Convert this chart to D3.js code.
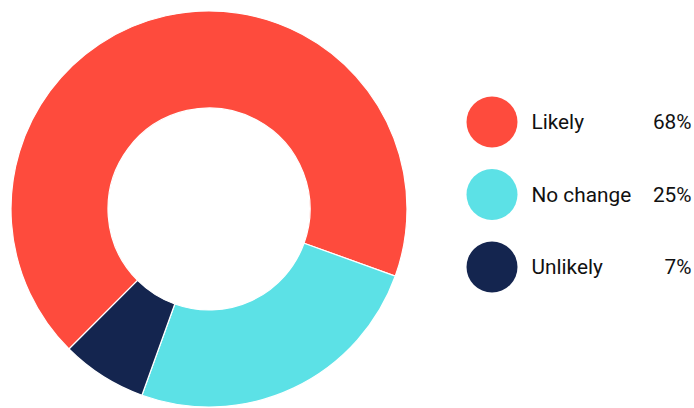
<!DOCTYPE html>
<html>
<head>
<meta charset="utf-8">
<script src="https://cdn.jsdelivr.net/npm/d3@7"></script>
<style>
  body { margin: 0; background: #fff; }
  text { font-family: Roboto, "Noto Sans", sans-serif; }
</style>
</head>
<body>
<svg width="694" height="408"></svg>
<script>
// data
var categories = ["Likely", "No change", "Unlikely"];
var values = [68, 25, 7];
var labels = ["68%", "25%", "7%"];
var colors = ["#fe4b3d", "#5ce1e6", "#14254f"];

var svg = d3.select("svg"),
  width = +svg.attr("width"),
  height = +svg.attr("height");

var cx = 209, cy = 209, outerR = 198, innerR = 101;

var data = categories.map(function(c, i) { return { name: c, value: values[i], label: labels[i] }; });

var color = d3.scaleOrdinal().domain(categories).range(colors);

var pie = d3.pie()
  .value(function(d) { return d.value; })
  .sort(null)
  .startAngle(-Math.PI * 3 / 4)
  .endAngle(Math.PI * 5 / 4);

var arc = d3.arc().innerRadius(innerR).outerRadius(outerR);

svg.append("g")
  .attr("transform", "translate(" + cx + "," + cy + ")")
  .selectAll("path")
  .data(pie(data))
  .enter()
  .append("path")
    .attr("d", arc)
    .style("fill", function(d) { return color(d.data.name); })
    .style("stroke", "#fff")
    .style("stroke-width", 1.2);

// legend
var y = d3.scalePoint().domain(categories).range([122, 267]);

var legend = svg.append("g")
  .selectAll("g")
  .data(data)
  .enter()
  .append("g")
    .attr("transform", function(d) { return "translate(0," + y(d.name) + ")"; });

legend.append("circle")
  .attr("cx", 492)
  .attr("cy", 0)
  .attr("r", 25.5)
  .style("fill", function(d) { return color(d.name); });

legend.append("text")
  .attr("x", 531.5)
  .attr("dy", "0.35em")
  .style("font-size", "20.8px")
  .style("fill", "#111")
  .text(function(d) { return d.name; });

legend.append("text")
  .attr("x", 691.5)
  .attr("dy", "0.35em")
  .attr("text-anchor", "end")
  .style("font-size", "20.8px")
  .style("fill", "#111")
  .text(function(d) { return d.label; });
</script>
</body>
</html>
